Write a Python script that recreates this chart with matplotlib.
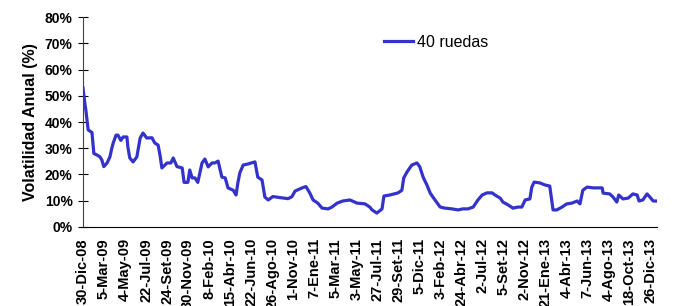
import matplotlib
matplotlib.use("Agg")
import matplotlib.pyplot as plt
from matplotlib.ticker import PercentFormatter

plt.rcParams['font.family'] = ['Liberation Sans', 'DejaVu Sans']

# sesiones (índice de rueda) y volatilidad anual (%)
dia = [0, 4, 6, 11, 19, 23, 30, 36, 40, 44, 51, 57, 61, 64, 70, 74, 80, 85, 93, 95,
       99, 106, 114, 121, 127, 135, 146, 152, 159, 163, 167, 178, 186, 191, 199, 210,
       214, 222, 226, 231, 237, 243, 252, 258, 265, 273, 279, 286, 294, 301, 307, 318,
       324, 328, 332, 339, 349, 364, 370, 379, 385, 392, 402, 417, 434, 442, 449, 464,
       472, 480, 487, 497, 506, 519, 527, 538, 550, 565, 580, 597, 607, 612, 622, 633,
       637, 650, 667, 675, 679, 686, 696, 707, 713, 720, 728, 735, 745, 756, 766, 781,
       794, 804, 815, 826, 836, 845, 855, 866, 872, 883, 889, 900, 910, 921, 929, 936,
       946, 950, 955, 967, 978, 988, 995, 1003, 1014, 1024, 1035, 1046, 1052, 1058,
       1067, 1080, 1090, 1099, 1101, 1115, 1122, 1130, 1134, 1143, 1154, 1164, 1173,
       1177, 1185, 1194, 1200, 1207, 1215]
vol = [53, 47, 44.6, 37, 36, 28, 27.4, 26.7, 25.5, 23, 24.4, 26.7, 30, 32, 35, 35, 33,
       34.3, 34.3, 30.5, 26.3, 24.8, 26.7, 33.9, 35.8, 33.9, 34, 32, 31.2, 27.4, 22.5,
       24.4, 24.4, 26.3, 23, 22.5, 17, 17, 21.7, 18.7, 18.7, 17, 24.4, 25.9, 22.9, 24.4,
       24.4, 25.1, 19, 18.7, 14.9, 14, 12.2, 17, 20.6, 23.6, 24, 24.8, 19, 17.9, 11.4,
       10.3, 11.6, 11.2, 10.8, 11.5, 13.7, 14.9, 15.4, 13, 10.3, 9.1, 7.2, 6.9, 7.6, 9.1,
       9.9, 10.3, 9.1, 8.8, 7.6, 6.5, 5.3, 6.9, 11.8, 12.2, 13, 14, 18.7, 21, 23.6, 24.4,
       22.9, 19, 16, 12.9, 10.3, 7.6, 7.2, 6.9, 6.5, 6.9, 6.9, 7.6, 10.3, 12.2, 13, 13,
       12.2, 11, 9.5, 8.4, 7.2, 7.6, 7.6, 10.3, 10.7, 15.2, 17.1, 16.8, 16, 15.6, 6.5,
       6.5, 7.6, 8.8, 9.1, 9.9, 8.8, 14, 15.2, 14.9, 14.9, 14.9, 12.9, 12.6, 11.4, 9.5,
       12.2, 10.7, 11, 12.6, 12.2, 9.9, 10.3, 12.6, 11.4, 9.9, 9.9]

etiquetas = ['30-Dic-08', '5-Mar-09', '4-May-09', '22-Jul-09', '24-Set-09', '30-Nov-09',
             '8-Feb-10', '15-Abr-10', '22-Jun-10', '26-Ago-10', '1-Nov-10', '7-Ene-11',
             '5-Mar-11', '3-May-11', '27-Jul-11', '29-Set-11', '5-Dic-11', '3-Feb-12',
             '24-Abr-12', '2-Jul-12', '5-Set-12', '2-Nov-12', '21-Ene-13', '4-Abr-13',
             '7-Jun-13', '4-Ago-13', '18-Oct-13', '26-Dic-13']
paso = 44.5

fig = plt.figure(figsize=(6.78, 3.06), dpi=100)
ax = fig.add_axes([0.1224, 0.2582, 0.969 - 0.1224, 0.9444 - 0.2582])
ax.plot(dia, vol, color='#3333CC', lw=2.3, label='40 ruedas')

ax.set_ylim(0, 80)
ax.set_xlim(0, dia[-1])
ax.set_yticks(range(0, 81, 10))
ax.yaxis.set_major_formatter(PercentFormatter(decimals=0))
ax.set_xticks([i * paso for i in range(len(etiquetas))])
ax.set_xticklabels(etiquetas, rotation=90, fontsize=10.5, fontweight='bold', va='top')
for t in ax.get_yticklabels():
    t.set_fontweight('bold')
    t.set_fontsize(10)
ax.tick_params(axis='y', direction='inout', length=7, width=0.8, pad=4)
ax.tick_params(axis='x', length=0, pad=8)
ax.spines['top'].set_visible(False)
ax.spines['right'].set_visible(False)
ax.spines['left'].set_color('#444444')
ax.set_ylabel('Volatilidad Anual (%)', fontsize=11.5, fontweight='bold', labelpad=5)

ax.legend(loc='center left', bbox_to_anchor=(0.524, 0.881), frameon=False,
          fontsize=11.5, handlelength=1.8, handletextpad=0.25,
          borderpad=0, borderaxespad=0)

fig.savefig('out.png', dpi=100)
